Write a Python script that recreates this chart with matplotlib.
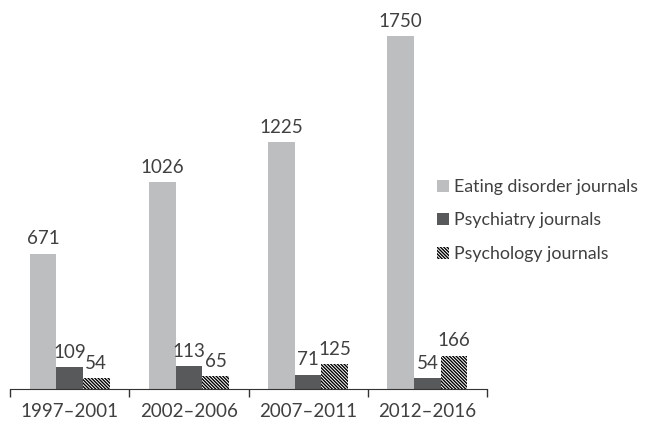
import matplotlib.pyplot as plt
import numpy as np

periods = ["1997\u20132001", "2002\u20132006", "2007\u20132011", "2012\u20132016"]
eating = [671, 1026, 1225, 1750]
psychiatry = [109, 113, 71, 54]
psychology = [54, 65, 125, 166]
series_names = ["Eating disorder journals", "Psychiatry journals", "Psychology journals"]

plt.rcParams['font.family'] = ['Lato', 'DejaVu Sans']
plt.rcParams['hatch.linewidth'] = 1.0
text_color = "#404040"

fig = plt.figure(figsize=(6.47, 4.25), dpi=100)
ax = fig.add_axes([10 / 647, (425 - 389) / 425, 477 / 647, 388 / 425])

x = np.arange(len(periods))
w = 0.223
bars1 = ax.bar(x - w, eating, w, color="#bcbec0", label=series_names[0])
bars2 = ax.bar(x, psychiatry, w, color="#58595b", label=series_names[1])
bars3 = ax.bar(x + w, psychology, w, color="white", edgecolor="black",
               hatch="\\" * 10, linewidth=0, label=series_names[2])

for bars in (bars1, bars2, bars3):
    for b in bars:
        ax.annotate(f"{int(b.get_height())}",
                    (b.get_x() + b.get_width() / 2, b.get_height()),
                    xytext=(0, 4.5), textcoords="offset points",
                    ha="center", va="bottom", fontsize=13.5, color=text_color)

ax.set_xlim(-0.5, 3.5)
ax.set_ylim(0, 1924)
ax.set_xticks(np.arange(-0.5, 4, 1))
ax.set_xticklabels([])
ax.set_xticks(x, minor=True)
ax.set_xticklabels(periods, minor=True)
ax.tick_params(axis="x", which="major", length=6, width=1, color="#333333")
ax.tick_params(axis="x", which="minor", length=0, pad=10, labelsize=13.5, labelcolor=text_color)
ax.set_yticks([])
for s in ("top", "right", "left"):
    ax.spines[s].set_visible(False)
ax.spines["bottom"].set_color("#333333")

fig.legend(loc="upper left", bbox_to_anchor=(421 / 647, 1 - 163 / 425), frameon=False,
           fontsize=12.8, labelcolor=text_color, handlelength=0.68, handleheight=0.68,
           handletextpad=0.3, labelspacing=0.98)

fig.savefig("out.png", dpi=100)
